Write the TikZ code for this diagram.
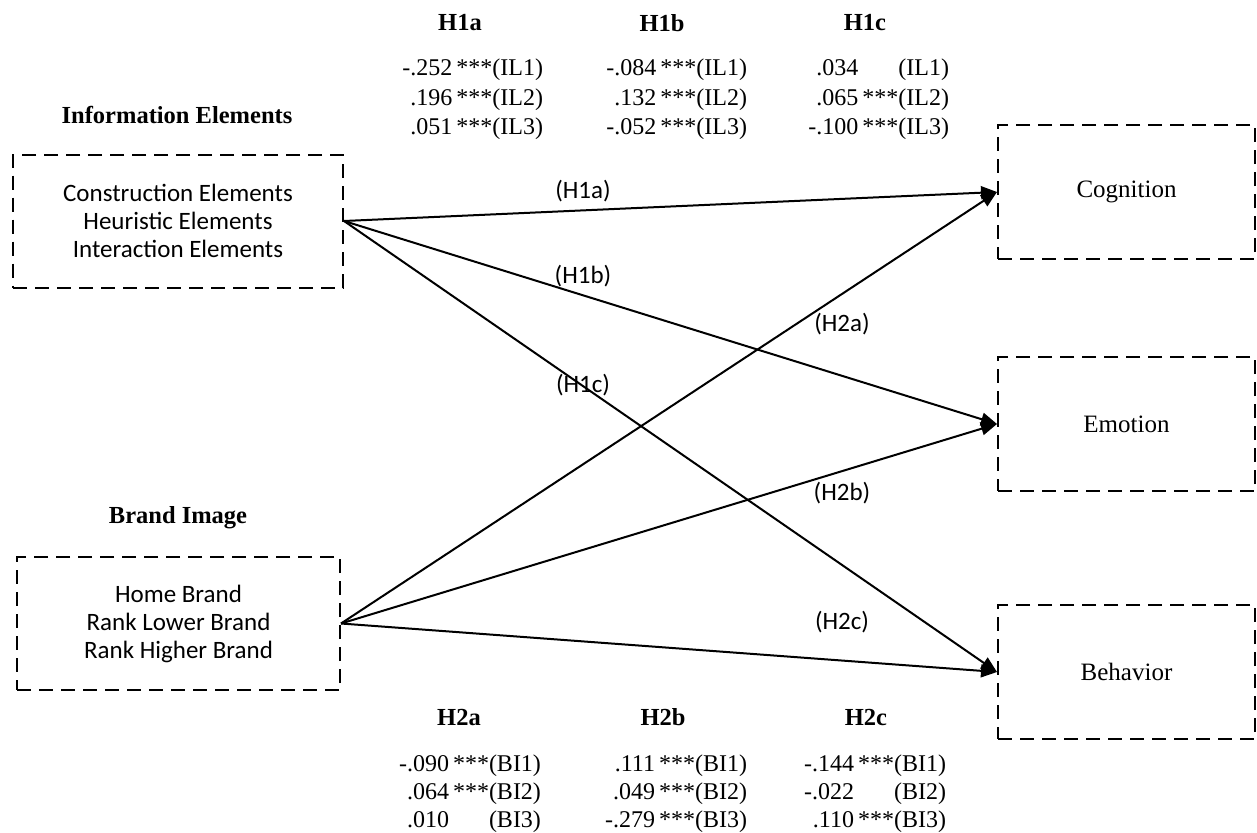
\documentclass[tikz,border=0pt]{standalone}
\usepackage{fontspec}
\setmainfont{Liberation Serif}
\newfontfamily\calibrifont{Carlito}
\usetikzlibrary{arrows.meta}
\tikzstyle{dbox} = [rectangle, draw, dash pattern=on 14pt off 8pt, line width=2pt,
    align=center, inner sep=0pt]
\tikzstyle{cal} = [font=\calibrifont\fontsize{25}{28}\selectfont]
\tikzstyle{ttl} = [font=\bfseries\fontsize{24.5}{28}\selectfont]
\tikzstyle{val} = [anchor=east, inner sep=0pt, font=\fontsize{24}{28}\selectfont]

\begin{document}
\begin{tikzpicture}[x=1pt,y=-1pt,line width=2pt,>={Triangle[length=16pt,width=13pt]}]
  \useasboundingbox (0,0) rectangle (1257,832);

  % left boxes
  \node[ttl]   (infottl) at (177,115) {Information Elements};
  \node[dbox,cal,minimum width=330pt,minimum height=133pt] (info) at (178,221)
        {Construction Elements\\Heuristic Elements\\Interaction Elements};
  \node[ttl]   (brandttl) at (178,518) {Brand Image};
  \node[dbox,cal,minimum width=323pt,minimum height=133pt] (brand) at (178.5,623.5)
        {Home Brand\\Rank Lower Brand\\Rank Higher Brand};

  % right boxes
  \node[dbox,minimum width=257pt,minimum height=134pt,font=\fontsize{25}{28}\selectfont]
        (cog) at (1126.5,192) {Cognition};
  \node[dbox,minimum width=257pt,minimum height=134pt,font=\fontsize{25}{28}\selectfont]
        (emo) at (1126.5,424) {Emotion};
  \node[dbox,minimum width=257pt,minimum height=134pt,font=\fontsize{25}{28}\selectfont]
        (beh) at (1126.5,672) {Behavior};

  \path[->] (info.east)  edge (cog.west)
                         edge (emo.west)
                         edge (beh.west)
            (brand.east) edge (cog.west)
                         edge (emo.west)
                         edge (beh.west);

  % path labels
  \node[cal] (l1a) at (583,191) {(H1a)};
  \node[cal] (l1b) at (583,276) {(H1b)};
  \node[cal] (l1c) at (583,385) {(H1c)};
  \node[cal] (l2a) at (842,324) {(H2a)};
  \node[cal] (l2b) at (842,493) {(H2b)};
  \node[cal] (l2c) at (842,622) {(H2c)};

  % coefficients, top
  \node[ttl] (h1a) at (460,23) {H1a};
  \node[ttl] (h1b) at (662,23) {H1b};
  \node[ttl] (h1c) at (865,23) {H1c};
  \node[val] (h1a1) at (544,70)  {-.252\,***(IL1)};
  \node[val] (h1a2) at (544,100) {.196\,***(IL2)};
  \node[val] (h1a3) at (544,129) {.051\,***(IL3)};
  \node[val] (h1b1) at (748,70)  {-.084\,***(IL1)};
  \node[val] (h1b2) at (748,100) {.132\,***(IL2)};
  \node[val] (h1b3) at (748,129) {-.052\,***(IL3)};
  \node[val] (h1c1) at (950,70)  {.034\,\phantom{***}(IL1)};
  \node[val] (h1c2) at (950,100) {.065\,***(IL2)};
  \node[val] (h1c3) at (950,129) {-.100\,***(IL3)};

  % coefficients, bottom
  \node[ttl] (h2a) at (459,717) {H2a};
  \node[ttl] (h2b) at (663,717) {H2b};
  \node[ttl] (h2c) at (866,717) {H2c};
  \node[val] (h2a1) at (542,766) {-.090\,***(BI1)};
  \node[val] (h2a2) at (542,794) {.064\,***(BI2)};
  \node[val] (h2a3) at (542,822) {.010\,\phantom{***}(BI3)};
  \node[val] (h2b1) at (748,766) {.111\,***(BI1)};
  \node[val] (h2b2) at (748,794) {.049\,***(BI2)};
  \node[val] (h2b3) at (748,822) {-.279\,***(BI3)};
  \node[val] (h2c1) at (947,766) {-.144\,***(BI1)};
  \node[val] (h2c2) at (947,794) {-.022\,\phantom{***}(BI2)};
  \node[val] (h2c3) at (947,822) {.110\,***(BI3)};
\end{tikzpicture}
\end{document}
